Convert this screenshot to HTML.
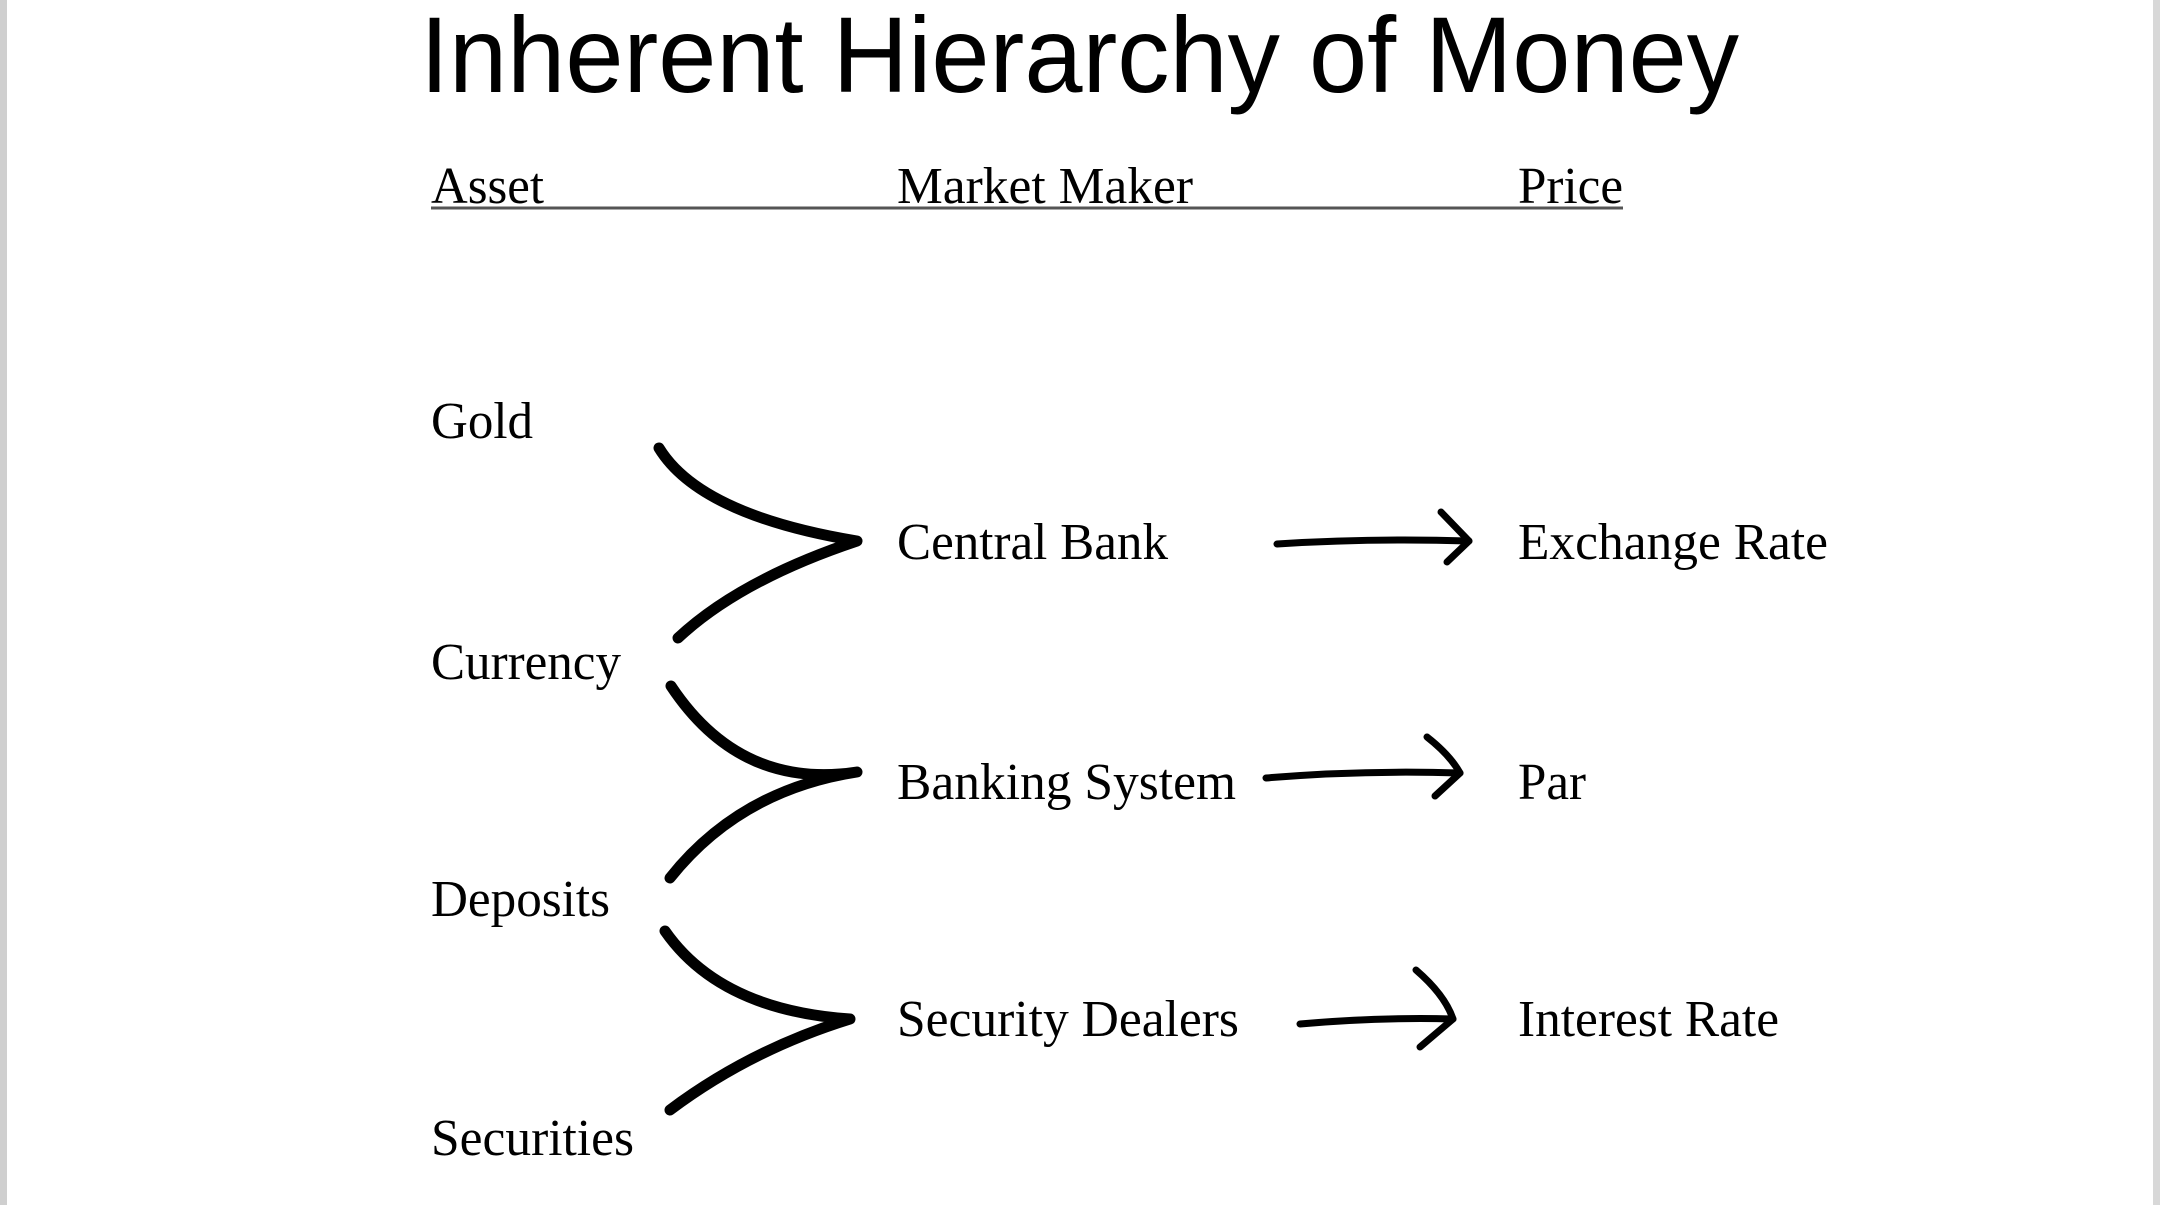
<!DOCTYPE html>
<html><head><meta charset="utf-8"><style>
html,body{margin:0;padding:0;background:#fff;}
svg{display:block;}
</style></head><body>
<svg width="2160" height="1205" viewBox="0 0 2160 1205" xmlns="http://www.w3.org/2000/svg">
<rect width="2160" height="1205" fill="#fff"/>
<rect x="0" y="0" width="7" height="1205" fill="#cfcfcf"/>
<rect x="2153" y="0" width="7" height="1205" fill="#d8d8d8"/>
<text x="420" y="92" font-family="Liberation Sans, sans-serif" font-size="108" textLength="1319" lengthAdjust="spacingAndGlyphs" fill="#000">Inherent Hierarchy of Money</text>
<g font-family="Liberation Serif, serif" font-size="52" fill="#000">
<text x="431" y="203" textLength="113" lengthAdjust="spacingAndGlyphs">Asset</text>
<text x="897" y="203" textLength="296" lengthAdjust="spacingAndGlyphs">Market Maker</text>
<text x="1518" y="203" textLength="105" lengthAdjust="spacingAndGlyphs">Price</text>
<text x="431" y="438" textLength="102" lengthAdjust="spacingAndGlyphs">Gold</text>
<text x="431" y="679" textLength="190" lengthAdjust="spacingAndGlyphs">Currency</text>
<text x="431" y="916" textLength="179" lengthAdjust="spacingAndGlyphs">Deposits</text>
<text x="431" y="1155" textLength="203" lengthAdjust="spacingAndGlyphs">Securities</text>
<text x="897" y="559" textLength="271" lengthAdjust="spacingAndGlyphs">Central Bank</text>
<text x="897" y="799" textLength="339" lengthAdjust="spacingAndGlyphs">Banking System</text>
<text x="897" y="1036" textLength="342" lengthAdjust="spacingAndGlyphs">Security Dealers</text>
<text x="1518" y="559" textLength="310" lengthAdjust="spacingAndGlyphs">Exchange Rate</text>
<text x="1518" y="799" textLength="68" lengthAdjust="spacingAndGlyphs">Par</text>
<text x="1518" y="1036" textLength="261" lengthAdjust="spacingAndGlyphs">Interest Rate</text>
</g>
<line x1="431" y1="208" x2="1623" y2="208" stroke="#555" stroke-width="3"/>
<g fill="none" stroke="#000" stroke-width="11" stroke-linecap="round" stroke-linejoin="round">
<path d="M659,448 Q700,515 857,541 Q740,580 678,638"/>
<path d="M671,686 Q740,790 857,772 Q740,790 670,878"/>
<path d="M665,931 Q720,1010 850,1019 Q750,1050 670,1110"/>
</g>
<g fill="none" stroke="#000" stroke-width="7" stroke-linecap="round" stroke-linejoin="round">
<path d="M1277,544 Q1370,538 1469,541"/><path d="M1441,512 L1469,541 L1447,562"/>
<path d="M1266,778 Q1360,770 1460,773"/><path d="M1427,737 Q1450,755 1460,773 L1435,796"/>
<path d="M1300,1024 Q1380,1017 1453,1019"/><path d="M1416,970 Q1445,995 1453,1019 L1420,1047"/>
</g>
</svg>
</body></html>
